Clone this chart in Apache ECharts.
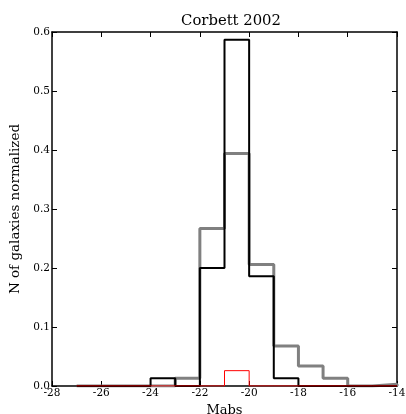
<!DOCTYPE html>
<html>
<head>
<meta charset="utf-8">
<script src="https://cdn.jsdelivr.net/npm/echarts@6/dist/echarts.min.js"></script>
<style>
html, body { margin: 0; padding: 0; background: #fff; }
#main { width: 406px; height: 414px; }
</style>
</head>
<body>
<div id="main"></div>
<script>
// bin edges (Mabs), 13 bins of width 1
var edges = [-27, -26, -25, -24, -23, -22, -21, -20, -19, -18, -17, -16, -15, -14];
// normalized counts per bin
var grayCounts  = [0, 0, 0, 0, 0.013, 0.267, 0.394, 0.206, 0.068, 0.034, 0.013, 0, 0.003];
var blackCounts = [0, 0, 0, 0.013, 0, 0.200, 0.587, 0.186, 0.013, 0, 0, 0, 0];
var redCounts   = [0, 0, 0, 0, 0, 0, 0.026, 0, 0, 0, 0, 0, 0];

var xTicks = [-28, -26, -24, -22, -20, -18, -16, -14];
var yTicks = [0.0, 0.1, 0.2, 0.3, 0.4, 0.5, 0.6];

// outline of a step histogram, like matplotlib histtype='step'
function stepPoints(counts) {
    var pts = [[edges[0], 0]];
    for (var i = 0; i < counts.length; i++) {
        pts.push([edges[i], counts[i]]);
        pts.push([edges[i + 1], counts[i]]);
    }
    pts.push([edges[edges.length - 1], 0]);
    return pts;
}

var font = 'DejaVu Serif';
var chart = echarts.init(document.getElementById('main'));

function xAxisCfg(pos, showLabel) {
    return {
        type: 'value', position: pos,
        min: xTicks[0], max: xTicks[xTicks.length - 1], interval: 2,
        name: showLabel ? 'Mabs' : '', nameLocation: 'middle', nameGap: 14,
        nameTextStyle: { fontFamily: font, fontSize: 13, color: '#000' },
        axisLine: { show: true, onZero: false, lineStyle: { color: '#000', width: 1.5 } },
        axisTick: { show: true, inside: true, length: 5, lineStyle: { color: '#000' } },
        axisLabel: { show: showLabel, fontFamily: font, fontSize: 10.5, color: '#000', margin: 2,
            formatter: function (v) { return String(v); } },
        splitLine: { show: false }
    };
}
function yAxisCfg(pos, showLabel) {
    return {
        type: 'value', position: pos,
        min: yTicks[0], max: yTicks[yTicks.length - 1], interval: 0.1,
        name: showLabel ? 'N of galaxies normalized' : '', nameLocation: 'middle', nameGap: 20,
        nameTextStyle: { fontFamily: font, fontSize: 13.5, color: '#000' },
        axisLine: { show: true, onZero: false, lineStyle: { color: '#000', width: 1.5 } },
        axisTick: { show: true, inside: true, length: 5, lineStyle: { color: '#000' } },
        axisLabel: { show: showLabel, fontFamily: font, fontSize: 10.5, color: '#000', margin: 2,
            formatter: function (v) { return v.toFixed(1); } },
        splitLine: { show: false }
    };
}

var option = {
    animation: false,
    backgroundColor: '#fff',
    title: {
        text: 'Corbett 2002', left: 226, top: 9, textAlign: 'center',
        textStyle: { fontFamily: font, fontSize: 14.8, fontWeight: 'normal', color: '#000' }
    },
    grid: { left: 52, right: 9, top: 32, bottom: 28, outerBoundsMode: 'none', containLabel: false },
    xAxis: [xAxisCfg('bottom', true), xAxisCfg('top', false)],
    yAxis: [yAxisCfg('left', true), yAxisCfg('right', false)],
    series: [
        {
            type: 'line', data: stepPoints(grayCounts), symbol: 'none',
            lineStyle: { color: '#808080', width: 3 }, z: 2
        },
        {
            type: 'line', data: stepPoints(blackCounts), symbol: 'none',
            lineStyle: { color: '#000', width: 2 }, z: 3
        },
        {
            type: 'line', data: stepPoints(redCounts), symbol: 'none',
            lineStyle: { color: '#ff0000', width: 1 }, z: 4
        }
    ]
};
chart.setOption(option);
</script>
</body>
</html>
